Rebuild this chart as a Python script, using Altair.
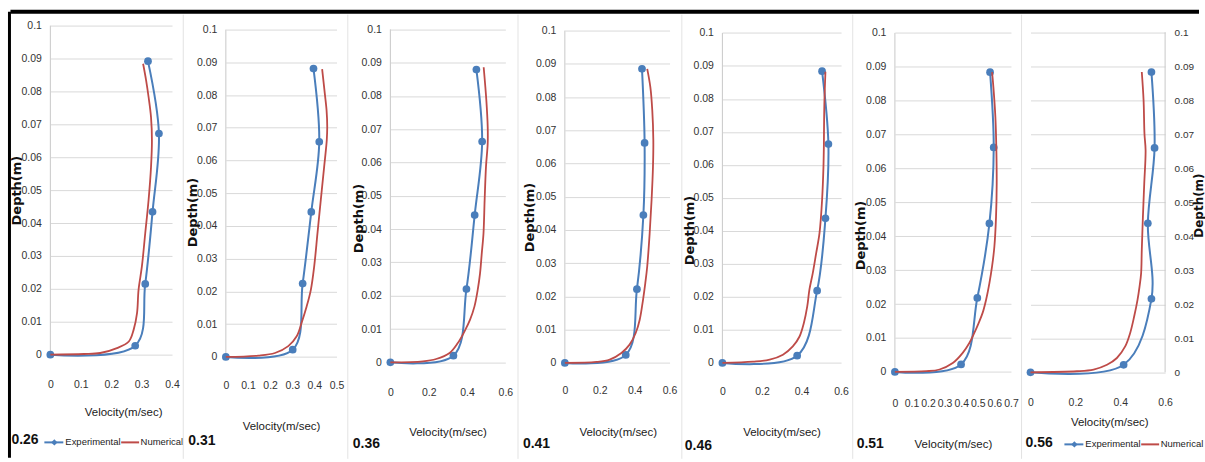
import altair as alt
import pandas as pd

# ---- velocity profiles (velocity in m/s, depth in m) ----
labels = ["0.26", "0.31", "0.36", "0.41", "0.46", "0.51", "0.56"]

exp_v_026 = [0, 0.279, 0.312, 0.336, 0.357, 0.321]
exp_d_026 = [0, 0.0027, 0.0215, 0.0434, 0.0672, 0.0892]
num_v_026 = [0, 0.110, 0.164, 0.219, 0.258, 0.274, 0.285, 0.290, 0.301, 0.312, 0.323, 0.331, 0.334, 0.331, 0.323, 0.315, 0.305]
num_d_026 = [0, 0.0002, 0.0005, 0.002, 0.004, 0.0076, 0.0126, 0.0197, 0.0268, 0.0369, 0.047, 0.057, 0.065, 0.0722, 0.0783, 0.0833, 0.0884]

exp_v_031 = [0, 0.302, 0.347, 0.386, 0.422, 0.396]
exp_d_031 = [0, 0.0022, 0.0224, 0.0443, 0.0657, 0.0881]
num_v_031 = [0, 0.147, 0.222, 0.282, 0.320, 0.342, 0.365, 0.384, 0.399, 0.414, 0.429, 0.444, 0.456, 0.458, 0.455, 0.447, 0.435]
num_d_031 = [0, 0.0004, 0.0012, 0.0033, 0.0063, 0.0104, 0.0154, 0.0205, 0.0276, 0.0378, 0.048, 0.058, 0.0663, 0.0703, 0.0754, 0.0805, 0.0879]

exp_v_036 = [0, 0.329, 0.397, 0.440, 0.479, 0.449]
exp_d_036 = [0, 0.002, 0.022, 0.0442, 0.0663, 0.0879]
num_v_036 = [0, 0.170, 0.239, 0.309, 0.352, 0.387, 0.416, 0.439, 0.456, 0.468, 0.477, 0.486, 0.492, 0.499, 0.508, 0.508, 0.501, 0.487]
num_d_036 = [0, 0.0003, 0.001, 0.0028, 0.0058, 0.0093, 0.0128, 0.0168, 0.0218, 0.0267, 0.0327, 0.0387, 0.0487, 0.0587, 0.0657, 0.0707, 0.0786, 0.0886]

exp_v_041 = [0, 0.349, 0.413, 0.450, 0.457, 0.442]
exp_d_041 = [0, 0.0024, 0.0222, 0.0445, 0.0662, 0.0885]
num_v_041 = [0, 0.181, 0.257, 0.324, 0.371, 0.406, 0.429, 0.448, 0.461, 0.472, 0.486, 0.497, 0.505, 0.507, 0.501, 0.490, 0.472]
num_d_041 = [0, 0.0003, 0.001, 0.003, 0.0055, 0.009, 0.013, 0.019, 0.024, 0.029, 0.039, 0.049, 0.059, 0.067, 0.076, 0.083, 0.0885]

exp_v_046 = [0, 0.378, 0.479, 0.521, 0.536, 0.504]
exp_d_046 = [0, 0.0022, 0.0219, 0.0438, 0.0663, 0.0884]
num_v_046 = [0, 0.155, 0.239, 0.306, 0.356, 0.390, 0.412, 0.429, 0.440, 0.457, 0.474, 0.491, 0.504, 0.511, 0.513, 0.514, 0.516, 0.521]
num_d_046 = [0, 0.0004, 0.001, 0.0025, 0.005, 0.008, 0.0121, 0.0171, 0.0222, 0.0272, 0.0332, 0.0393, 0.0493, 0.0594, 0.0655, 0.072, 0.0796, 0.0882]

exp_v_051 = [0, 0.399, 0.497, 0.570, 0.596, 0.574]
exp_d_051 = [0, 0.0022, 0.0218, 0.0438, 0.0662, 0.0884]
num_v_051 = [0, 0.189, 0.269, 0.349, 0.409, 0.449, 0.479, 0.505, 0.529, 0.550, 0.570, 0.586, 0.600, 0.610, 0.614, 0.612, 0.606, 0.594, 0.586]
num_d_051 = [0, 0.0002, 0.0007, 0.0026, 0.0056, 0.0085, 0.0115, 0.0144, 0.0174, 0.0213, 0.0262, 0.0311, 0.037, 0.0458, 0.0556, 0.0654, 0.0752, 0.084, 0.0884]

exp_v_056 = [0, 0.415, 0.539, 0.523, 0.553, 0.539]
exp_d_056 = [0, 0.0022, 0.0216, 0.0438, 0.066, 0.0883]
num_v_056 = [0, 0.207, 0.281, 0.341, 0.385, 0.422, 0.444, 0.462, 0.477, 0.486, 0.493, 0.496, 0.501, 0.507, 0.513, 0.508, 0.504, 0.496]
num_d_056 = [0, 0.0003, 0.0008, 0.0022, 0.0042, 0.0076, 0.0115, 0.0164, 0.0213, 0.0252, 0.0291, 0.036, 0.0457, 0.0555, 0.0653, 0.0701, 0.08, 0.0883]

x_max = [0.4, 0.5, 0.6, 0.6, 0.6, 0.7, 0.6]
x_ticks = [
    [0, 0.1, 0.2, 0.3, 0.4],
    [0, 0.1, 0.2, 0.3, 0.4, 0.5],
    [0, 0.2, 0.4, 0.6],
    [0, 0.2, 0.4, 0.6],
    [0, 0.2, 0.4, 0.6],
    [0, 0.1, 0.2, 0.3, 0.4, 0.5, 0.6, 0.7],
    [0, 0.2, 0.4, 0.6],
]
y_ticks = [0, 0.01, 0.02, 0.03, 0.04, 0.05, 0.06, 0.07, 0.08, 0.09, 0.1]

profiles = [
    (exp_v_026, exp_d_026, num_v_026, num_d_026),
    (exp_v_031, exp_d_031, num_v_031, num_d_031),
    (exp_v_036, exp_d_036, num_v_036, num_d_036),
    (exp_v_041, exp_d_041, num_v_041, num_d_041),
    (exp_v_046, exp_d_046, num_v_046, num_d_046),
    (exp_v_051, exp_d_051, num_v_051, num_d_051),
    (exp_v_056, exp_d_056, num_v_056, num_d_056),
]

# ---- layout (pixels) ----
TOP = 25
BOTTOM_EDGE = 459.5
plot_left = [50, 225.7, 390.7, 565, 722.7, 895.3, 1030]
plot_right = [172, 336.7, 506, 670, 841.7, 1011.7, 1165]
grid_top = [25, 29, 28.7, 30, 32.3, 32.3, 31.7]        # row of the 0.1 gridline
grid_bottom = [355, 357.3, 362.7, 363.3, 363.3, 372.3, 372.7]  # row of the 0 gridline
separators = [None, 183, 348, 518, 682, 853, 1021]
x_label_pad = [24.5, 24, 25, 23, 24, 27, 25]
x_title_center = [123, 281, 448, 618, 782, 953.5, 1109]
x_title_row = [413, 427, 433, 433, 433, 445, 423]
y_title_center = [(16, 190), (192, 212), (359, 218), (530, 217), (690, 230), (861, 235), (1198.5, 205)]
tag_pos = [(11, 441), (188, 442), (353, 445), (523, 445), (685, 447), (857, 445), (1025, 444)]

BLUE = "#4A7EBB"
RED = "#BE4B48"
GRID = "#D9D9D9"
SEP = "#E3E3E3"
SANS = "Liberation Sans, Arial, sans-serif"
BOLD_FONT = "DejaVu Sans"
LABEL_INK = "#333333"

one = pd.DataFrame({"k": [0]})


def legend_layers(x_left, row):
    """Experimental / Numerical key drawn at pixel offsets inside a panel."""
    return [
        alt.Chart(one).mark_rule(color=BLUE, strokeWidth=2).encode(
            x=alt.value(x_left), x2=alt.value(x_left + 19), y=alt.value(row)),
        alt.Chart(one).mark_point(shape="diamond", filled=True, size=40, color=BLUE, opacity=1).encode(
            x=alt.value(x_left + 10), y=alt.value(row)),
        alt.Chart(one).mark_text(text="Experimental", align="left", baseline="middle",
                                 font=SANS, fontSize=9.5, color="#222222").encode(
            x=alt.value(x_left + 21), y=alt.value(row)),
        alt.Chart(one).mark_rule(color=RED, strokeWidth=2).encode(
            x=alt.value(x_left + 77), x2=alt.value(x_left + 95), y=alt.value(row)),
        alt.Chart(one).mark_text(text="Numerical", align="left", baseline="middle",
                                 font=SANS, fontSize=9.5, color="#222222").encode(
            x=alt.value(x_left + 96.5), y=alt.value(row)),
    ]


def panel(i):
    ev, ed, nv, nd = profiles[i]
    left, right = plot_left[i], plot_right[i]
    width = right - left
    height = grid_bottom[i] - TOP
    y_top = 0.1 * height / (grid_bottom[i] - grid_top[i])
    right_axis = i == 6

    ty_x, ty_y = y_title_center[i]
    y_axis = alt.Axis(
        orient="right" if right_axis else "left",
        values=y_ticks, format="~g", grid=True, gridColor=GRID, gridWidth=1,
        domain=False, ticks=False, labelPadding=9, labelFont=SANS,
        labelFontSize=10 if right_axis else 10.5,
        labelColor=LABEL_INK, labelOverlap=False,
        title="Depth(m)", titleFont=BOLD_FONT, titleFontWeight="bold",
        titleFontSize=12 if right_axis else 13,
        titleColor="#111111", titleAngle=270, titleAlign="center", titleBaseline="middle",
        titleX=(ty_x - right) if right_axis else (ty_x - left), titleY=ty_y - TOP,
    )
    x_axis = alt.Axis(
        values=x_ticks[i], format="~g", grid=False, domain=False, ticks=False,
        labelPadding=x_label_pad[i], labelFlush=False, labelOverlap=False,
        labelFont=SANS, labelFontSize=10.5, labelColor=LABEL_INK,
        title="Velocity(m/sec)", titleFont=SANS, titleFontSize=11.5, titleFontWeight="normal",
        titleColor="#1A1A1A", titleAlign="center", titleBaseline="middle",
        titleX=x_title_center[i] - left, titleY=x_title_row[i] - grid_bottom[i],
    )
    x_enc = alt.X("v:Q", scale=alt.Scale(domain=[0, x_max[i]], nice=False), axis=x_axis)
    y_enc = alt.Y("d:Q", scale=alt.Scale(domain=[0, y_top], nice=False), axis=y_axis)

    exp_df = pd.DataFrame({"v": ev, "d": ed})
    num_df = pd.DataFrame({"v": nv, "d": nd})
    spine_df = pd.DataFrame({"v": [x_max[i] if right_axis else 0], "d": [0], "d2": [0.1]})

    layers = [
        alt.Chart(spine_df).mark_rule(color="#C8C8C8", strokeWidth=1).encode(
            x=x_enc, y=y_enc, y2="d2:Q"),
        alt.Chart(exp_df).mark_line(color=BLUE, strokeWidth=2, interpolate="catmull-rom").encode(
            x=x_enc, y=y_enc, order="d:Q"),
        alt.Chart(exp_df).mark_point(shape="circle", filled=True, size=60, color=BLUE, opacity=1).encode(
            x=x_enc, y=y_enc),
        alt.Chart(num_df).mark_line(color=RED, strokeWidth=1.8, interpolate="catmull-rom").encode(
            x=x_enc, y=y_enc, order="d:Q"),
    ]

    tx, ty = tag_pos[i]
    layers.append(
        alt.Chart(one).mark_text(text=labels[i], align="left", baseline="middle", font=SANS,
                                 fontSize=14, fontWeight="bold", color="#111111").encode(
            x=alt.value(tx - left), y=alt.value(ty - TOP)))

    if separators[i] is not None:
        layers.append(
            alt.Chart(one).mark_rule(color=SEP, strokeWidth=1).encode(
                x=alt.value(separators[i] - left), y=alt.value(14 - TOP),
                y2=alt.value(BOTTOM_EDGE - TOP)))

    if i == 0:
        layers += legend_layers(44 - left, 443 - TOP)
        # black frame along the top and the left edge
        layers.append(
            alt.Chart(one).mark_rule(color="#000000", strokeWidth=4).encode(
                x=alt.value(10 - left), x2=alt.value(1202 - left), y=alt.value(11 - TOP)))
        layers.append(
            alt.Chart(one).mark_rule(color="#000000", strokeWidth=3).encode(
                x=alt.value(9 - left), y=alt.value(11 - TOP), y2=alt.value(BOTTOM_EDGE - 1 - TOP)))
    if i == 6:
        layers += legend_layers(1064 - left, 445 - TOP)

    return alt.layer(*layers).properties(width=width, height=height)


def spacer(w):
    return alt.Chart(one).mark_rule(strokeOpacity=0).encode(
        x=alt.value(0), y=alt.value(0), y2=alt.value(1)).properties(width=w, height=10)


parts = []
for i in range(7):
    if i > 0:
        parts.append(spacer(plot_left[i] - plot_right[i - 1]))
    parts.append(panel(i))

chart = alt.hconcat(*parts, spacing=0, bounds="flush").resolve_scale(
    x="independent", y="independent"
).properties(
    padding={"left": 7.5, "top": 9, "right": 0, "bottom": 0}, background="white"
).configure_view(stroke=None)

chart.save("out.html", embed_options={"renderer": "svg", "actions": False})
